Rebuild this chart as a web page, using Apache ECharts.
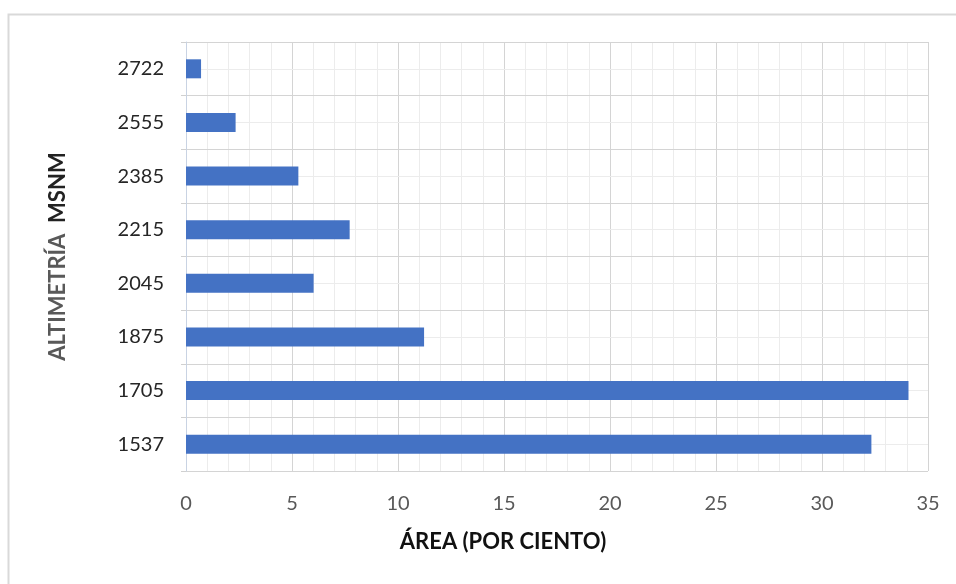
<!DOCTYPE html>
<html>
<head>
<meta charset="utf-8">
<script src="https://cdn.jsdelivr.net/npm/echarts@6/dist/echarts.min.js"></script>
<style>
html,body{margin:0;padding:0;background:#fff;}
#c{width:956px;height:584px;}
</style>
</head>
<body>
<div id="c"></div>
<script>
const categories = ['1537', '1705', '1875', '2045', '2215', '2385', '2555', '2722'];
const areaValues = [32.33, 34.08, 11.23, 6.02, 7.72, 5.30, 2.34, 0.71];
const xTicks = [0, 5, 10, 15, 20, 25, 30, 35];
const xTitle = 'ÁREA (POR CIENTO)';
const yTitleA = 'ALTIMETRÍA';
const yTitleB = 'MSNM';

const FONT = 'Lato';
const chart = echarts.init(document.getElementById('c'), null, {renderer: 'canvas'});
chart.setOption({
  backgroundColor: '#ffffff',
  animation: false,
  graphic: [{
    type: 'rect',
    left: 6, top: 12,
    shape: {x: 0, y: 0, width: 1200, height: 1200},
    style: {fill: 'none', stroke: '#d9d9d9', lineWidth: 2},
    silent: true, z: -10
  }],
  grid: {left: 186, right: 28, top: 42, bottom: 113},
  xAxis: {
    type: 'value',
    min: xTicks[0],
    max: xTicks[xTicks.length - 1],
    interval: 5,
    name: xTitle,
    nameLocation: 'middle',
    nameGap: 60,
    nameTextStyle: {fontFamily: FONT, fontWeight: 'bold', fontSize: 22, color: '#111', padding: [0, 108, 0, 0]},
    axisLine: {show: false},
    axisTick: {show: false},
    axisLabel: {fontFamily: FONT, fontSize: 20, color: '#595959', margin: 23},
    splitLine: {show: true, lineStyle: {color: '#d4d4d4', width: 1}},
    minorTick: {show: false, splitNumber: 5},
    minorSplitLine: {show: true, lineStyle: {color: '#ececec', width: 1}}
  },
  yAxis: [{
    type: 'category',
    data: categories,
    name: '{a|' + yTitleA + '}{b|  ' + yTitleB + '}',
    nameLocation: 'middle',
    nameGap: 117,
    nameRotate: 90,
    nameTextStyle: {
      rich: {
        a: {fontFamily: FONT, fontWeight: 'bold', fontSize: 22, color: '#595959'},
        b: {fontFamily: FONT, fontWeight: 'bold', fontSize: 22, color: '#222'}
      }
    },
    axisLine: {show: true, lineStyle: {color: '#c9d3e3', width: 1}},
    axisTick: {show: true, length: 5, lineStyle: {color: '#d0d0d0'}},
    axisLabel: {fontFamily: FONT, fontSize: 20, color: '#262626', margin: 22},
    splitLine: {show: true, lineStyle: {color: '#d4d4d4', width: 1}},
    z: 3
  }, {
    type: 'value',
    min: 0, max: 16, interval: 1,
    position: 'right',
    axisLine: {show: false},
    axisTick: {show: false},
    axisLabel: {show: false},
    splitLine: {show: true, lineStyle: {color: '#ececec', width: 1}},
    z: 1
  }],
  series: [{
    type: 'bar',
    yAxisIndex: 0,
    data: areaValues,
    barWidth: 19,
    itemStyle: {color: '#4472c4'},
    z: 5
  }]
});
</script>
</body>
</html>
